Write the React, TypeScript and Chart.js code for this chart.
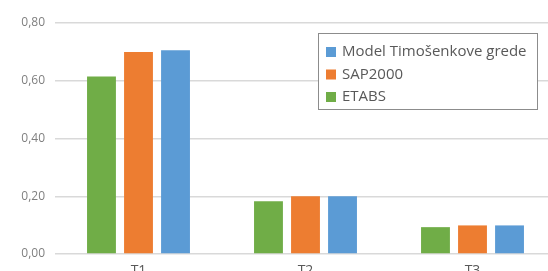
import React, { useEffect, useRef } from "react";
import { Chart, registerables } from "chart.js";

Chart.register(...registerables);

const categories = ["T1", "T2", "T3"];
const etabs = [0.615, 0.183, 0.093];
const sap2000 = [0.70, 0.20, 0.099];
const timosenko = [0.706, 0.20, 0.099];
const yTicks = [0, 0.2, 0.4, 0.6, 0.8];

const legendItems = [
  { label: "Model Timošenkove grede", color: "#5b9bd5" },
  { label: "SAP2000", color: "#ed7d31" },
  { label: "ETABS", color: "#70ad47" },
];

const boxLegend = {
  id: "boxLegend",
  afterDraw(chart: any) {
    const ctx = chart.ctx;
    ctx.save();
    ctx.fillStyle = "#ffffff";
    ctx.fillRect(318.5, 33.5, 219, 76);
    ctx.strokeStyle = "#8c8c8c";
    ctx.lineWidth = 1;
    ctx.strokeRect(318.5, 33.5, 219, 76);
    ctx.font = "15px 'Open Sans'";
    ctx.textBaseline = "middle";
    legendItems.forEach((it, i) => {
      const cy = 52 + i * 22.5;
      ctx.fillStyle = it.color;
      ctx.fillRect(326, cy - 5, 10, 10);
      ctx.fillStyle = "#595959";
      ctx.fillText(it.label, 342, cy);
    });
    ctx.restore();
  },
};

export default function App() {
  const ref = useRef<HTMLCanvasElement | null>(null);
  useEffect(() => {
    document.documentElement.style.overflow = "hidden";
    document.body.style.overflow = "hidden";
    const chart = new Chart(ref.current!, {
      type: "bar",
      data: {
        labels: categories,
        datasets: [
          { label: "ETABS", data: etabs, backgroundColor: "#70ad47" },
          { label: "SAP2000", data: sap2000, backgroundColor: "#ed7d31" },
          { label: "Model Timošenkove grede", data: timosenko, backgroundColor: "#5b9bd5" },
        ],
      },
      options: {
        responsive: false,
        animation: false,
        layout: { padding: { top: 23, right: 0, left: 0, bottom: 0 } },
        datasets: { bar: { categoryPercentage: 0.665, barPercentage: 0.78 } },
        plugins: { legend: { display: false }, tooltip: { enabled: false } },
        scales: {
          x: {
            grid: { display: false, drawTicks: false },
            border: { display: false },
            ticks: { color: "#595959", padding: 9, font: { family: "'Open Sans'", size: 14 } },
            afterFit: (s: any) => { s.height = 30; },
          },
          y: {
            min: 0,
            max: 0.8,
            afterBuildTicks: (s: any) => { s.ticks = yTicks.map((v) => ({ value: v })); },
            grid: { color: "#d9d9d9", lineWidth: 1.5, drawTicks: false },
            border: { display: false },
            ticks: {
              color: "#7f7f7f",
              padding: 10,
              font: { family: "'Open Sans'", size: 12 },
              callback: (v: any) => Number(v).toFixed(2).replace(".", ","),
            },
            afterFit: (s: any) => { s.width = 55; },
          },
        },
      },
      plugins: [boxLegend],
    });
    return () => chart.destroy();
  }, []);
  return (
    <canvas
      ref={ref}
      width={556}
      height={284}
      style={{ position: "absolute", left: 0, top: 0 }}
    />
  );
}
